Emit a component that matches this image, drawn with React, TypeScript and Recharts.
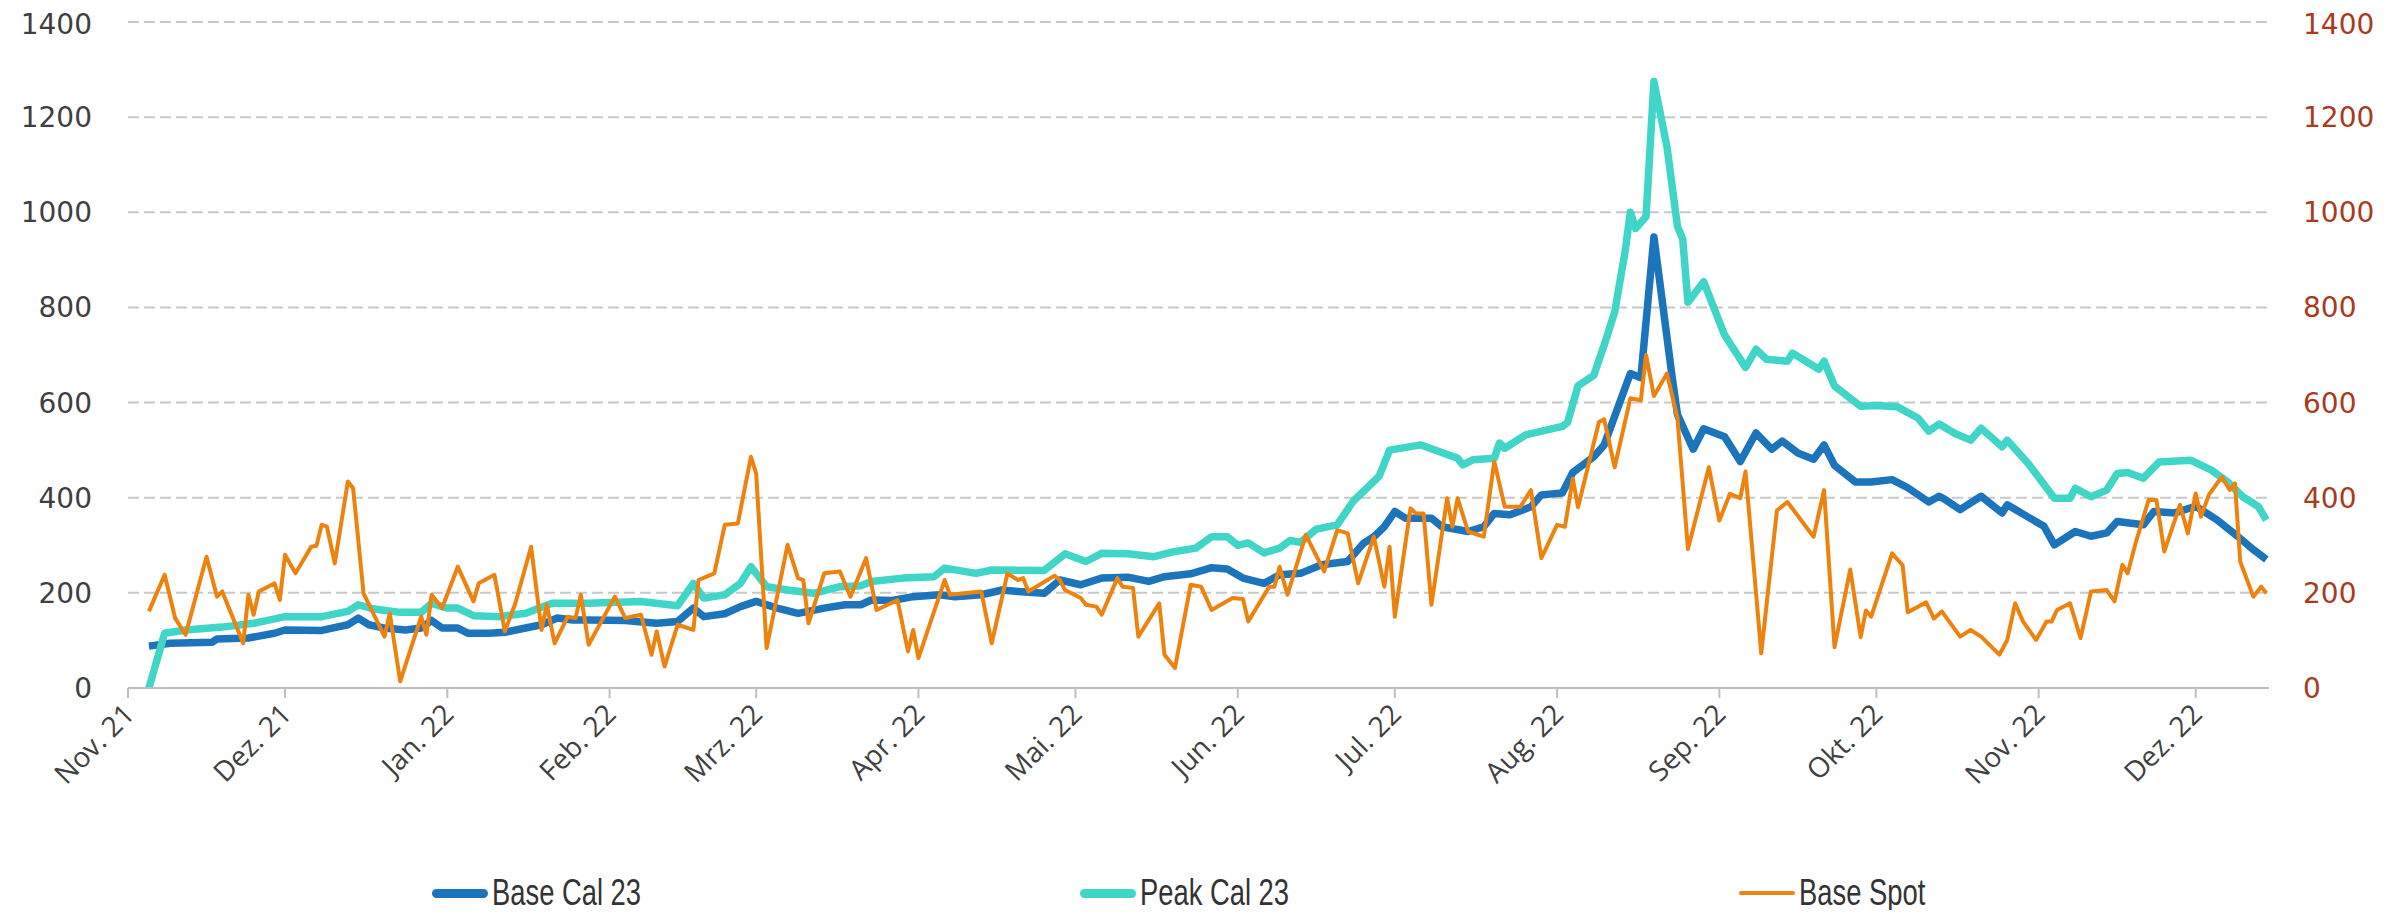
import { LineChart, Line, XAxis, YAxis, CartesianGrid } from 'recharts';

// x = days since 1 Nov 2021, y = EUR/MWh
const baseCal23: [number, number][] = [
  [4, 88], [8, 94], [16, 96], [17, 103], [23, 105], [28, 115], [30, 122], [37, 121], [39, 126], [42, 133],
  [44, 147], [46, 133], [49, 126], [53, 122], [56, 126], [58, 142], [60, 126], [63, 126], [65, 115], [69, 115],
  [72, 117], [75, 124], [79, 133], [82, 147], [85, 143], [88, 143], [95, 142], [101, 136], [105, 140], [108, 168],
  [110, 150], [114, 156], [117, 171], [120, 182], [124, 168], [128, 157], [133, 168], [137, 175], [140, 175], [142, 185],
  [146, 184], [150, 192], [155, 196], [158, 192], [163, 196], [167, 206], [170, 203], [175, 199], [178, 227], [182, 217],
  [186, 231], [191, 233], [195, 224], [198, 234], [203, 240], [207, 253], [210, 250], [213, 231], [217, 220], [220, 238],
  [224, 241], [228, 259], [233, 266], [236, 304], [238, 318], [240, 339], [242, 371], [244, 357], [249, 357], [251, 339],
  [256, 329], [259, 339], [261, 367], [264, 364], [268, 381], [270, 406], [274, 410], [276, 453], [280, 486], [282, 511],
  [287, 661], [289, 652], [291.5, 948], [295, 652], [296, 575], [299, 502], [301, 545], [305, 528], [308, 476], [311, 536],
  [314, 502], [316, 519], [319, 494], [322, 481], [324, 511], [326, 468], [330, 433], [333, 433], [337, 438], [340, 421],
  [344, 391], [346, 403], [347, 397], [350, 375], [354, 403], [358, 368], [359, 385], [366, 340], [368, 301], [372, 329],
  [375, 319], [378, 326], [380, 350], [385, 343], [387, 371], [391, 368], [395, 382], [399, 354], [403, 319], [406, 291],
  [408.5, 270],
];

const peakCal23: [number, number][] = [
  [4, 0], [7, 115], [11, 122], [18, 128], [24, 136], [30, 150], [37, 150], [42, 161], [44, 175], [47, 166],
  [52, 159], [56, 159], [58, 178], [61, 168], [63, 168], [66, 152], [71, 150], [76, 157], [81, 178], [88, 178],
  [98, 182], [105, 173], [108, 220], [110, 189], [114, 196], [117, 220], [119, 255], [122, 213], [126, 206], [131, 199],
  [136, 213], [140, 215], [142, 224], [148, 231], [154, 234], [156, 252], [162, 241], [165, 248], [175, 247], [179, 282],
  [183, 266], [186, 283], [191, 282], [196, 276], [200, 287], [204, 294], [207, 318], [210, 318], [212, 300], [214, 305],
  [217, 284], [220, 294], [222, 310], [224, 306], [227, 334], [231, 343], [234, 392], [239, 445], [241, 500], [247, 511],
  [254, 483], [255, 469], [257, 480], [261, 483], [262, 515], [263, 504], [267, 532], [274, 550], [275, 558], [277, 635],
  [280, 657], [282, 721], [284, 790], [286, 918], [287, 1000], [288, 966], [290, 991], [291.5, 1275], [294, 1137], [296, 970],
  [297, 944], [298, 811], [301, 854], [305, 742], [309, 674], [311, 712], [313, 691], [317, 687], [318, 704], [323, 670],
  [324, 687], [326, 635], [331, 592], [334, 594], [338, 591], [342, 567], [344, 540], [346, 555], [349, 535], [352, 521],
  [354, 546], [358, 507], [359, 521], [363, 472], [368, 399], [371, 399], [372, 420], [375, 402], [378, 416], [380, 451],
  [382, 453], [385, 441], [388, 475], [394, 479], [398, 458], [401, 434], [404, 402], [407, 381], [408.5, 353],
];

const baseSpot: [number, number][] = [
  [4, 161], [7, 238], [9, 147], [11, 112], [15, 276], [17, 192], [18, 203], [22, 94], [23, 196], [24, 154],
  [25, 203], [28, 220], [29, 185], [30, 280], [32, 241], [35, 297], [36, 299], [37, 343], [38, 339], [39.5, 262],
  [42, 434], [43, 420], [45, 199], [49, 108], [50, 157], [52, 14], [56, 150], [57, 112], [58, 196], [60, 168],
  [63, 255], [66, 182], [67, 220], [70, 238], [72, 119], [74, 178], [77, 297], [79, 122], [80, 175], [81.5, 94],
  [84, 150], [85.5, 147], [86.5, 196], [88, 91], [93, 192], [95, 147], [98, 154], [100, 70], [101, 119], [102.5, 45],
  [105, 133], [108, 122], [109, 227], [112, 241], [114, 343], [116.5, 346], [119, 486], [120, 451], [122, 84], [126, 301],
  [128, 231], [129, 227], [130, 136], [133, 241], [136, 245], [138, 192], [141, 273], [143, 164], [147, 185], [149, 77],
  [150, 122], [151, 63], [156, 227], [157, 196], [163, 203], [165, 94], [168, 241], [170, 227], [171, 231], [172, 203],
  [177, 236], [178, 227], [179, 206], [182, 189], [183, 175], [185, 171], [186, 154], [189, 231], [190, 213], [192, 210],
  [193, 108], [197, 178], [198, 70], [200, 42], [203, 217], [205, 213], [207, 164], [211, 189], [213, 187], [214, 140],
  [218, 213], [219, 213], [220, 255], [221.5, 196], [225, 322], [228.5, 245], [231, 332], [233, 325], [235, 220], [238, 318],
  [240, 213], [241, 297], [242, 150], [245, 378], [246, 367], [247.5, 367], [249, 175], [252, 399], [253, 339], [254, 399],
  [256, 329], [259, 318], [261, 476], [263, 381], [266, 381], [268, 416], [270, 273], [273, 343], [274.5, 339], [276, 440],
  [277, 380], [281, 559], [282, 565], [284, 464], [287, 609], [289, 605], [290, 700], [291.5, 614], [294, 661], [296, 567],
  [298, 292], [302, 464], [304, 352], [306, 408], [308, 399], [309, 455], [312, 73], [315, 373], [317, 391], [322, 318],
  [324, 416], [326, 86], [329, 249], [331, 107], [332, 163], [333, 150], [337, 283], [339, 258], [340, 159], [343.5, 180],
  [345, 146], [346.5, 161], [350, 108], [352, 122], [354, 108], [357.5, 70], [359, 101], [360.5, 178], [362, 140], [364.5, 101],
  [366.5, 140], [367.5, 140], [368.5, 164], [371, 178], [373, 105], [375, 203], [378, 206], [379.5, 182], [381, 259], [382, 241],
  [383.5, 304], [386, 395], [387.5, 395], [389, 287], [392, 385], [393.5, 325], [395, 409], [396, 360], [397.5, 406], [400, 444],
  [401.5, 416], [402.5, 430], [403.5, 266], [406, 192], [407.5, 213], [408.5, 199],
];

const monthTicks = [0, 30, 61, 92, 120, 151, 181, 212, 242, 273, 304, 334, 365, 395];
const monthLabels = ['Nov. 21', 'Dez. 21', 'Jan. 22', 'Feb. 22', 'Mrz. 22', 'Apr. 22', 'Mai. 22', 'Jun. 22',
  'Jul. 22', 'Aug. 22', 'Sep. 22', 'Okt. 22', 'Nov. 22', 'Dez. 22'];
const yTicks = [0, 200, 400, 600, 800, 1000, 1200, 1400];

const W = 2376;
const H = 902;
const BLUE = '#1C75BC';
const TURQ = '#3FD6C8';
const ORANGE = '#EE820E';

const toRows = (pts: [number, number][]) => pts.map(([d, v]) => ({ d, v }));

function MonthTick({ x, y, payload }: any) {
  const label = monthLabels[monthTicks.indexOf(payload.value)];
  const ax = x + 8;
  return (
    <text x={ax} y={y} textAnchor="end" transform={`rotate(-45 ${ax} ${y})`}
      fill="#404040" fontSize={28} fontFamily="'Open Sans', sans-serif">
      {label}
    </text>
  );
}

const legendItems = [
  { name: 'Base Cal 23', color: BLUE, left: 424, thick: 9 },
  { name: 'Peak Cal 23', color: TURQ, left: 1072, thick: 9 },
  { name: 'Base Spot', color: ORANGE, left: 1731, thick: 4 },
];

export default function App() {
  return (
    <div style={{ position: 'relative', width: W, height: H }}>
      <LineChart width={W} height={H} margin={{ top: 14, right: 0, bottom: 0, left: 0 }}>
        <CartesianGrid yAxisId="left" vertical={false} stroke="#C8C8C8" strokeWidth={2} strokeDasharray="11 5" />
        <XAxis type="number" dataKey="d" domain={[0, 409]} ticks={monthTicks} interval={0} allowDataOverflow
          height={222} tickSize={10} tickMargin={18} stroke="#BFBFBF" strokeWidth={2} tick={<MonthTick />} />
        <YAxis yAxisId="left" orientation="left" domain={[0, 1400]} ticks={yTicks} width={120}
          axisLine={false} tickLine={false} tickSize={0} tickMargin={36}
          tick={{ fill: '#3F3F3F', fontSize: 28, fontFamily: 'DejaVu Sans' }} />
        <YAxis yAxisId="right" orientation="right" domain={[0, 1400]} ticks={yTicks} width={115}
          axisLine={false} tickLine={false} tickSize={0} tickMargin={34}
          tick={{ fill: '#A93A1E', fontSize: 28, fontFamily: 'DejaVu Sans', textAnchor: 'start' }} />
        <Line yAxisId="left" data={toRows(baseCal23)} dataKey="v" type="linear" stroke={BLUE} strokeWidth={7.5}
          strokeLinejoin="round" dot={false} isAnimationActive={false} />
        <Line yAxisId="left" data={toRows(peakCal23)} dataKey="v" type="linear" stroke={TURQ} strokeWidth={7.5}
          strokeLinejoin="round" dot={false} isAnimationActive={false} />
        <Line yAxisId="right" data={toRows(baseSpot)} dataKey="v" type="linear" stroke={ORANGE} strokeWidth={4}
          strokeLinejoin="round" dot={false} isAnimationActive={false} />
      </LineChart>
      {legendItems.map((it) => (
        <div key={it.name} style={{ position: 'absolute', left: it.left, top: 866, height: 38, display: 'flex', alignItems: 'center' }}>
          <span style={{ width: 56, height: it.thick, background: it.color, borderRadius: it.thick / 2, display: 'inline-block' }} />
          <span style={{ marginLeft: 4, fontFamily: "'Liberation Sans', sans-serif", fontSize: 36, color: '#333',
            display: 'inline-block', transform: 'scaleX(0.76)', transformOrigin: 'left center', whiteSpace: 'nowrap' }}>
            {it.name}
          </span>
        </div>
      ))}
    </div>
  );
}
